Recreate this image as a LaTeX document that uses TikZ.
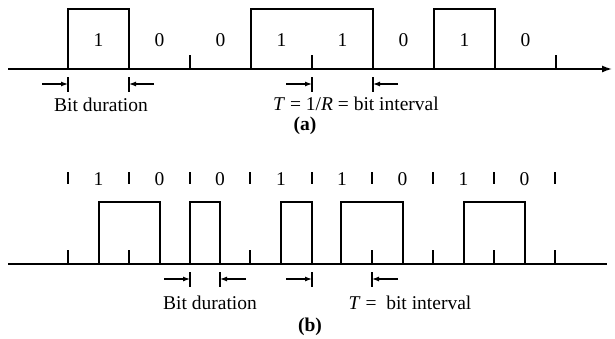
\documentclass[tikz,border=0pt]{standalone}
\usepackage{fontspec}
\setmainfont{Liberation Serif}
\usetikzlibrary{arrows.meta}
\begin{document}
\begin{tikzpicture}[x=1pt,y=-1pt,
  axis/.style={line width=1.4pt},
  sig/.style={line width=1.8pt, line join=miter},
  tickmark/.style={line width=1.4pt},
  dimbar/.style={line width=1.2pt},
  dimarrow/.style={line width=1.2pt,-{Latex[length=7pt,width=5pt]}},
  lbl/.style={font=\fontsize{19.5}{23}\selectfont, inner sep=0pt},
]
\useasboundingbox (0,0) rectangle (615,338);

% ---------- (a) ----------
\draw[axis,-{Latex[length=10pt,width=7pt]}] (8,69) -- (612,69);
\draw[sig] (8,69) -- (68,69) -- (68,9) -- (129,9) -- (129,69) -- (251,69) -- (251,9)
  -- (373,9) -- (373,69) -- (434,69) -- (434,9) -- (495,9) -- (495,69) -- (556,69);
\foreach \x in {190,312,556} \draw[tickmark] (\x,55) -- (\x,69);
\foreach \x/\b [count=\i] in {98.5/1,159.5/0,220.5/0,281.5/1,342.5/1,403.5/0,464.5/1,525.5/0}
  \node[lbl] (ba\i) at (\x,40) {\b};

\foreach \x [count=\i] in {68,129,312,373} {
  \coordinate (ta\i) at (\x,84);
  \draw[dimbar] (\x,77) -- (\x,92);
}
\coordinate (sa1) at (42,84);
\coordinate (sa2) at (154,84);
\coordinate (sa3) at (286,84);
\coordinate (sa4) at (398,84);
\foreach \i in {1,...,4} \draw[dimarrow] (sa\i) -- (ta\i);

\node[lbl] (bda) at (101,105) {Bit duration};
\node[lbl] (tia) at (356,104) {\textit{T} = 1/\textit{R} = bit interval};
\node[lbl] (capa) at (305,126) {\textbf{(a)}};

% ---------- (b) ----------
\draw[axis] (8,264) -- (607,264);
\draw[sig] (99,264) -- (99,202) -- (160,202) -- (160,264) -- (190,264) -- (190,202)
  -- (220,202) -- (220,264) -- (281,264) -- (281,202) -- (312,202) -- (312,264)
  -- (341,264) -- (341,202) -- (403,202) -- (403,264) -- (464,264) -- (464,202)
  -- (525,202) -- (525,264) -- (555,264);
\foreach \x in {68,129,190,250,312,372,433,494,555} \draw[tickmark] (\x,172) -- (\x,184);
\foreach \x in {68,129,250,372,433,494,555} \draw[tickmark] (\x,250) -- (\x,264);
\foreach \x/\b [count=\i] in {98.5/1,159.5/0,220/0,281/1,342/1,402.5/0,463.5/1,524.5/0}
  \node[lbl] (bb\i) at (\x,179) {\b};

\foreach \x [count=\i] in {190,220,312,372} {
  \coordinate (tb\i) at (\x,279);
  \draw[dimbar] (\x,272) -- (\x,287);
}
\coordinate (sb1) at (164,279);
\coordinate (sb2) at (246,279);
\coordinate (sb3) at (286,279);
\coordinate (sb4) at (398,279);
\foreach \i in {1,...,4} \draw[dimarrow] (sb\i) -- (tb\i);

\node[lbl] (bdb) at (210,303) {Bit duration};
\node[lbl] (tib) at (410,303) {\textit{T} =\enspace bit interval};
\node[lbl] (capb) at (310,327) {\textbf{(b)}};
\end{tikzpicture}
\end{document}
